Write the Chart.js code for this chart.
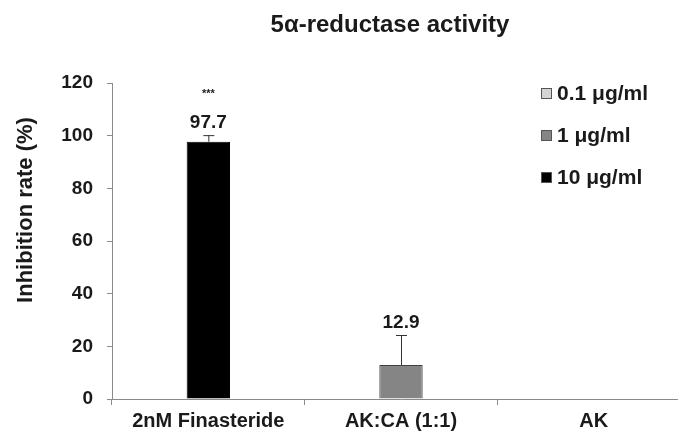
<!DOCTYPE html>
<html>
<head>
<meta charset="utf-8">
<script src="https://cdn.jsdelivr.net/npm/chart.js@4/dist/chart.umd.min.js"></script>
<style>
  html, body { margin: 0; padding: 0; background: #fff; overflow: hidden; }
  #wrap { position: relative; width: 692px; height: 434px; }
</style>
</head>
<body>
<div id="wrap"><canvas id="chart"></canvas></div>
<script>
const categories = ['2nM Finasteride', 'AK:CA (1:1)', 'AK'];
const doseLabels = ['0.1 μg/ml', '1 μg/ml', '10 μg/ml'];
const doseColors = ['#d4d4d4', '#858585', '#000000'];

// one value per category, null where no bar is drawn
const lowDose = [null, null, null];
const midDose = [null, 12.9, null];
const highDose = [97.7, null, null];

const lowErr = [null, null, null];
const midErr = [null, 11.4, null];
const highErr = [2.5, null, null];

const significance = ['***', '', ''];

const FONT = "Arial, 'Liberation Sans', sans-serif";
const TEXT = '#1a1a1a';
const AXIS = '#8a8a8a';

const errors = [lowErr, midErr, highErr];

const errorBars = {
    id: 'errorBars',
    afterDatasetsDraw(chart) {
        const ctx = chart.ctx;
        const y = chart.scales.y;
        ctx.save();
        chart.data.datasets.forEach((ds, i) => {
            const meta = chart.getDatasetMeta(i);
            meta.data.forEach((bar, j) => {
                const v = ds.data[j];
                if (v === null) return;
                const err = errors[i][j] || 0;
                const top = y.getPixelForValue(v + err);
                ctx.strokeStyle = '#333';
                ctx.lineWidth = 1;
                ctx.beginPath();
                ctx.moveTo(bar.x + 0.5, bar.y);
                ctx.lineTo(bar.x + 0.5, top);
                ctx.moveTo(bar.x - 5, top + 0.5);
                ctx.lineTo(bar.x + 6, top + 0.5);
                ctx.stroke();

                ctx.fillStyle = TEXT;
                ctx.textAlign = 'center';
                ctx.textBaseline = 'middle';
                ctx.font = 'bold 19px ' + FONT;
                ctx.fillText(v.toFixed(1), bar.x, top - 12);
                if (significance[j]) {
                    ctx.font = 'bold 11px ' + FONT;
                    ctx.fillText(significance[j], bar.x, top - 41);
                }
            });
        });
        ctx.restore();
    }
};

const extraText = {
    id: 'extraText',
    afterDraw(chart) {
        const ctx = chart.ctx;
        ctx.save();
        ctx.fillStyle = TEXT;
        ctx.textAlign = 'center';
        ctx.textBaseline = 'middle';
        ctx.font = 'bold 24px ' + FONT;
        ctx.fillText('5α-reductase activity', 390, 25);

        ctx.translate(26, 210);
        ctx.rotate(-Math.PI / 2);
        ctx.font = 'bold 22px ' + FONT;
        ctx.fillText('Inhibition rate (%)', 0, 0);
        ctx.restore();

        // legend
        ctx.save();
        ctx.textAlign = 'left';
        ctx.textBaseline = 'middle';
        ctx.font = 'bold 21px ' + FONT;
        chart.data.datasets.forEach((ds, i) => {
            const cy = 93 + i * 42;
            ctx.fillStyle = ds.backgroundColor;
            ctx.fillRect(541, cy - 5, 11, 11);
            ctx.strokeStyle = '#555';
            ctx.lineWidth = 1;
            ctx.strokeRect(541.5, cy - 4.5, 10, 10);
            ctx.fillStyle = TEXT;
            ctx.fillText(ds.label, 557, cy + 1);
        });
        ctx.restore();
    }
};

new Chart(document.getElementById('chart'), {
    type: 'bar',
    data: {
        labels: categories,
        datasets: [
            { label: doseLabels[0], data: lowDose, backgroundColor: doseColors[0], borderColor: '#555', borderWidth: 1 },
            { label: doseLabels[1], data: midDose, backgroundColor: doseColors[1], borderColor: '#404040', borderWidth: 1 },
            { label: doseLabels[2], data: highDose, backgroundColor: doseColors[2], borderColor: '#000', borderWidth: 1 }
        ]
    },
    options: {
        responsive: true, maintainAspectRatio: false,
        animation: false,
        skipNull: true,
        categoryPercentage: 0.5,
        barPercentage: 0.45,
        layout: { padding: { top: 83, right: 2, left: 0, bottom: 0 } },
        plugins: { legend: { display: false }, tooltip: { enabled: false } },
        scales: {
            x: {
                afterFit: (s) => { s.height = 35; },
                border: { color: AXIS, width: 1 },
                grid: { drawOnChartArea: false, color: AXIS, tickLength: 6 },
                ticks: { color: TEXT, padding: 4, font: { family: FONT, size: 20, weight: 'bold' } }
            },
            y: {
                min: 0, max: 120,
                afterFit: (s) => { s.width = 112; },
                border: { color: AXIS, width: 1 },
                grid: { drawOnChartArea: false, color: AXIS, tickLength: 5 },
                ticks: { stepSize: 20, color: TEXT, padding: 14, font: { family: FONT, size: 19, weight: 'bold' } }
            }
        }
    },
    plugins: [errorBars, extraText]
});
</script>
</body>
</html>
